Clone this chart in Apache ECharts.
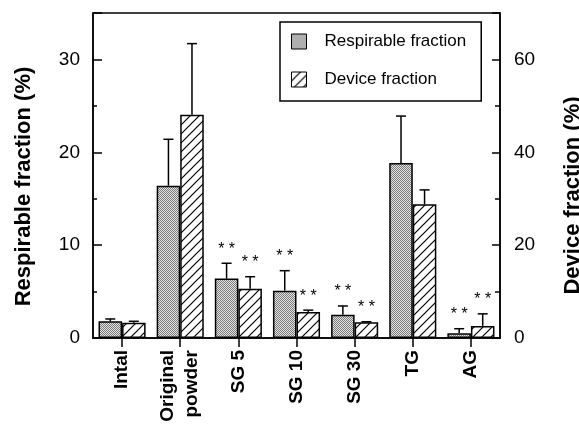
<!DOCTYPE html>
<html>
<head>
<meta charset="utf-8">
<script src="https://cdn.jsdelivr.net/npm/echarts@6/dist/echarts.min.js"></script>
<style>
html,body{margin:0;padding:0;background:#fff;}
#chart{width:579px;height:427px;}
</style>
</head>
<body>
<div id="chart"></div>
<script>
// ---- data ----
const categories = ['Intal', 'Original\npowder', 'SG 5', 'SG 10', 'SG 30', 'TG', 'AG'];
const respirable = [1.8, 16.4, 6.4, 5.1, 2.5, 18.85, 0.5];
const respirableErrTop = [2.05, 21.4, 8.05, 7.25, 3.45, 23.9, 1.0];
const respirableSig = [0, 0, 1, 1, 1, 0, 1];
const device = [3.3, 48.1, 10.6, 5.6, 3.4, 28.8, 2.6];
const deviceErrTop = [3.6, 63.4, 13.2, 6.0, 3.5, 31.9, 5.2];
const deviceSig = [0, 0, 1, 1, 1, 0, 1];
const leftTicks = [0, 10, 20, 30];
const rightTicks = [0, 20, 40, 60];

const FONT = '"Liberation Sans", Arial, Helvetica, sans-serif';

function makeStipple() {
  const c = document.createElement('canvas');
  c.width = 2; c.height = 2;
  const g = c.getContext('2d');
  g.fillStyle = '#e4e4e4'; g.fillRect(0, 0, 2, 2);
  g.fillStyle = '#7a7a7a'; g.fillRect(0, 0, 1, 1); g.fillRect(1, 1, 1, 1);
  return c;
}
function makeHatch() {
  const s = 9;
  const c = document.createElement('canvas');
  c.width = s; c.height = s;
  const g = c.getContext('2d');
  g.fillStyle = '#fff'; g.fillRect(0, 0, s, s);
  g.strokeStyle = '#000'; g.lineWidth = 1.2;
  g.beginPath();
  g.moveTo(-1, s + 1); g.lineTo(s + 1, -1);
  g.moveTo(-1, 1); g.lineTo(1, -1);
  g.moveTo(s - 1, s + 1); g.lineTo(s + 1, s - 1);
  g.stroke();
  return c;
}
const stipple = { image: makeStipple(), repeat: 'repeat' };
const hatch = { image: makeHatch(), repeat: 'repeat' };

const CAT_GAP = 0.19;
function errRenderer(side) {
  return function (params, api) {
    const i = api.value(0);
    const base = api.coord([i, api.value(1)]);
    const top = api.coord([i, api.value(2)]);
    const band = api.size([1, 0])[0];
    const x = base[0] + side * band * (1 - CAT_GAP) / 4;
    const children = [
      { type: 'line', shape: { x1: x, y1: base[1], x2: x, y2: top[1] }, style: { stroke: '#000', lineWidth: 1.5 } },
      { type: 'line', shape: { x1: x - 5, y1: top[1], x2: x + 5, y2: top[1] }, style: { stroke: '#000', lineWidth: 1.5 } }
    ];
    if (api.value(3)) {
      children.push({ type: 'text', x: x, y: top[1] - 14,
        style: { text: '* *', fill: '#000', font: '16px ' + FONT, align: 'center', verticalAlign: 'middle' } });
    }
    return { type: 'group', children: children };
  };
}

const chart = echarts.init(document.getElementById('chart'), null, { renderer: 'canvas' });
const axisLineStyle = { show: true, lineStyle: { color: '#000', width: 1.5 } };
chart.setOption({
  animation: false,
  backgroundColor: '#fff',
  textStyle: { fontFamily: FONT },
  grid: { left: 93, right: 79, top: 13, bottom: 89, outerBoundsMode: 'none', containLabel: false,
    show: true, borderColor: '#000', borderWidth: 1.5, backgroundColor: 'transparent' },
  legend: {
    orient: 'vertical', left: 280, top: 22,
    padding: [11, 15, 13, 11], itemGap: 21,
    itemWidth: 15, itemHeight: 15, icon: 'rect',
    borderColor: '#000', borderWidth: 1.5,
    itemStyle: { borderColor: '#000', borderWidth: 1 },
    textStyle: { fontSize: 17, color: '#000', fontFamily: FONT, padding: [0, 0, 0, 13] },
    data: ['Respirable fraction', 'Device fraction']
  },
  xAxis: {
    type: 'category', data: categories,
    axisLine: axisLineStyle,
    axisTick: { show: true, alignWithLabel: true, length: 9, lineStyle: { color: '#000', width: 1.5 } },
    axisLabel: { rotate: 90, fontSize: 19, fontWeight: 'bold', color: '#000', margin: 12, lineHeight: 24, fontFamily: FONT },
    splitLine: { show: false }
  },
  yAxis: [
    {
      type: 'value', position: 'left', min: 0, max: 35, interval: 10,
      name: 'Respirable fraction (%)', nameLocation: 'middle', nameRotate: 90, nameGap: 58,
      nameTextStyle: { fontSize: 22, fontWeight: 'bold', color: '#000', fontFamily: FONT, padding: [0, 22, 0, 0] },
      axisLine: axisLineStyle,
      axisTick: { show: true, inside: true, length: 9, lineStyle: { color: '#000', width: 1.5 } },
      axisLabel: { fontSize: 19, color: '#000', margin: 13, fontFamily: FONT,
        formatter: v => leftTicks.includes(v) ? String(v) : '' },
      splitLine: { show: false }
    },
    {
      type: 'value', position: 'right', min: 0, max: 70, interval: 20,
      name: 'Device fraction (%)', nameLocation: 'middle', nameRotate: 90, nameGap: 62,
      nameTextStyle: { fontSize: 22, fontWeight: 'bold', color: '#000', fontFamily: FONT, padding: [0, 40, 0, 0] },
      axisLine: axisLineStyle,
      axisTick: { show: true, inside: true, length: 8, lineStyle: { color: '#000', width: 1.5 } },
      axisLabel: { fontSize: 19, color: '#000', margin: 14, fontFamily: FONT,
        formatter: v => rightTicks.includes(v) ? String(v) : '' },
      splitLine: { show: false }
    },
    {
      type: 'value', position: 'left', min: 0, max: 35, interval: 5,
      axisLine: { show: false },
      axisTick: { show: true, inside: true, length: 4, lineStyle: { color: '#000', width: 1.5 } },
      axisLabel: { show: false }, splitLine: { show: false }
    },
    {
      type: 'value', position: 'right', min: 0, max: 70, interval: 10,
      axisLine: { show: false },
      axisTick: { show: true, inside: true, length: 5, lineStyle: { color: '#000', width: 1.5 } },
      axisLabel: { show: false }, splitLine: { show: false }
    }
  ],
  series: [
    {
      name: 'Respirable fraction', type: 'bar', yAxisIndex: 0, data: respirable,
      barGap: 0, barCategoryGap: (CAT_GAP * 100) + '%',
      itemStyle: { color: stipple, borderColor: '#000', borderWidth: 1.5 }
    },
    {
      name: 'Device fraction', type: 'bar', yAxisIndex: 1, data: device,
      barGap: 0, barCategoryGap: (CAT_GAP * 100) + '%',
      itemStyle: { color: hatch, borderColor: '#000', borderWidth: 1.5 }
    },
    {
      type: 'custom', yAxisIndex: 0, z: 5,
      renderItem: errRenderer(-1),
      data: categories.map((c, i) => [i, respirable[i], respirableErrTop[i], respirableSig[i]])
    },
    {
      type: 'custom', yAxisIndex: 1, z: 5,
      renderItem: errRenderer(1),
      data: categories.map((c, i) => [i, device[i], deviceErrTop[i], deviceSig[i]])
    }
  ]
});
</script>
</body>
</html>
